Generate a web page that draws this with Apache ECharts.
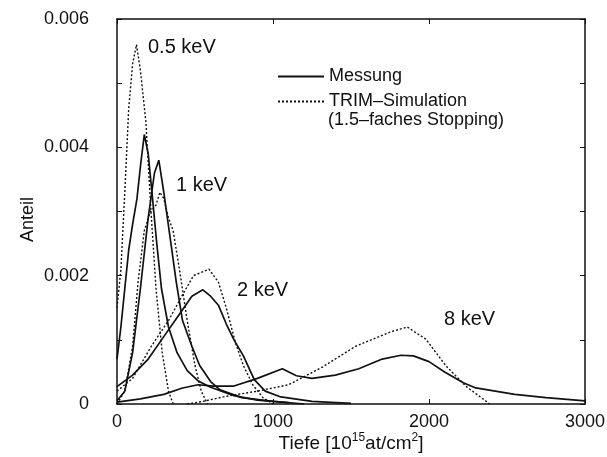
<!DOCTYPE html>
<html>
<head>
<meta charset="utf-8">
<script src="https://cdn.jsdelivr.net/npm/echarts@6/dist/echarts.min.js"></script>
<style>
  html, body { margin: 0; padding: 0; background: #fff; }
  #chart { width: 607px; height: 457px; }
</style>
</head>
<body>
<div id="chart"></div>
<script>
// Depth profiles: implanted fraction vs. depth, measured (solid) and TRIM (dotted)
const xTicks = [0, 1000, 2000, 3000];
const yTicks = [0, 0.002, 0.004, 0.006];

// 0.5 keV
const depth05Mess = [0, 25, 50, 75, 100, 128, 150, 175, 200, 224, 255, 285, 330, 385, 450, 520, 600, 750, 900, 1100];
const anteil05Mess = [0.0007, 0.0012, 0.0018, 0.0024, 0.0028, 0.0032, 0.0037, 0.0042, 0.0039, 0.0033, 0.0025, 0.0018, 0.0012, 0.0008, 0.00052, 0.00036, 0.00026, 0.00013, 0.00006, 0.00002];
const depth05Trim = [0, 25, 50, 75, 100, 125, 150, 185, 218, 250, 290, 330, 360];
const anteil05Trim = [0.0015, 0.0021, 0.0033, 0.0046, 0.0053, 0.0056, 0.0052, 0.0044, 0.003, 0.0018, 0.0008, 0.0002, 0];

// 1 keV
const depth1Mess = [0, 50, 100, 150, 200, 240, 268, 300, 340, 380, 420, 480, 530, 600, 660, 800, 1000, 1200];
const anteil1Mess = [0.00005, 0.0002, 0.0008, 0.0018, 0.0029, 0.0036, 0.0038, 0.0033, 0.0026, 0.0019, 0.0013, 0.0009, 0.0006, 0.00035, 0.00022, 0.0001, 0.00004, 0];
const depth1Trim = [0, 50, 100, 135, 175, 215, 250, 275, 300, 330, 360, 400, 450, 500, 540, 580];
const anteil1Trim = [0, 0.0002, 0.0009, 0.0019, 0.0027, 0.003, 0.0031, 0.0033, 0.0032, 0.0029, 0.0027, 0.0021, 0.0013, 0.0006, 0.0002, 0];

// 2 keV
const depth2Mess = [0, 100, 200, 300, 400, 480, 550, 600, 650, 700, 750, 810, 880, 950, 1050, 1250, 1500];
const anteil2Mess = [0.00027, 0.00045, 0.0007, 0.00105, 0.0014, 0.00168, 0.00178, 0.00168, 0.00154, 0.00125, 0.001, 0.00075, 0.00038, 0.0002, 0.00011, 0.00004, 0.00001];
const depth2Trim = [0, 100, 220, 330, 420, 490, 590, 650, 700, 760, 810, 870, 935, 1000];
const anteil2Trim = [0.0002, 0.0004, 0.0009, 0.0013, 0.0017, 0.002, 0.0021, 0.0019, 0.0015, 0.00095, 0.0006, 0.0003, 0.0001, 0];

// 8 keV
const depth8Mess = [0, 150, 300, 420, 520, 620, 750, 900, 1060, 1150, 1250, 1400, 1550, 1700, 1820, 1900, 2000, 2100, 2220, 2300, 2550, 2750, 3000];
const anteil8Mess = [0.00003, 0.00008, 0.00015, 0.00025, 0.0003, 0.00028, 0.00028, 0.0004, 0.00055, 0.00044, 0.0004, 0.00045, 0.00055, 0.0007, 0.00076, 0.00075, 0.00066, 0.0005, 0.00033, 0.00025, 0.00015, 0.0001, 0.00005];
const depth8Trim = [450, 550, 700, 900, 1100, 1320, 1530, 1750, 1860, 1980, 2110, 2240, 2390];
const anteil8Trim = [0, 0.00004, 0.00012, 0.0002, 0.0003, 0.00058, 0.0009, 0.00112, 0.0012, 0.00101, 0.00059, 0.00027, 0];

const energyLabels = ['0.5 keV', '1 keV', '2 keV', '8 keV'];
const legendNames = ['Messung', 'TRIM\u2013Simulation'];
const legendNote = '(1.5\u2013faches Stopping)';

function pairs(xs, ys) { return xs.map((x, i) => [x, ys[i]]); }

const FONT = '"Liberation Sans", Arial, sans-serif';
const INK = '#111';
const solidStyle = { color: INK, width: 1.7, type: 'solid' };
const dotStyle = { color: INK, width: 1.4, type: [2, 2] };

function lineSeries(name, xs, ys, style) {
  return {
    type: 'line', name: name, data: pairs(xs, ys),
    symbol: 'none', showSymbol: false, smooth: false,
    lineStyle: style, itemStyle: { color: INK },
    emphasis: { disabled: true }, animation: false
  };
}

const series = [
  lineSeries(legendNames[0], depth05Mess, anteil05Mess, solidStyle),
  lineSeries(legendNames[1], depth05Trim, anteil05Trim, dotStyle),
  lineSeries(legendNames[0], depth1Mess, anteil1Mess, solidStyle),
  lineSeries(legendNames[1], depth1Trim, anteil1Trim, dotStyle),
  lineSeries(legendNames[0], depth2Mess, anteil2Mess, solidStyle),
  lineSeries(legendNames[1], depth2Trim, anteil2Trim, dotStyle),
  lineSeries(legendNames[0], depth8Mess, anteil8Mess, solidStyle),
  lineSeries(legendNames[1], depth8Trim, anteil8Trim, dotStyle)
];

const chart = echarts.init(document.getElementById('chart'), null, { renderer: 'canvas' });

const axisCommon = {
  axisLine: { show: true, onZero: false, lineStyle: { color: INK, width: 1.5 } },
  axisTick: { show: true, inside: true, length: 5, lineStyle: { color: INK, width: 1 } },
  splitLine: { show: false }
};

const annot = (i, left, top) => ({
  type: 'text', left: left, top: top,
  style: { text: energyLabels[i], font: '20px ' + FONT, fill: INK }
});

chart.setOption({
  animation: false,
  backgroundColor: '#fff',
  textStyle: { fontFamily: FONT },
  grid: { left: 117, right: 22, top: 19, bottom: 53, containLabel: false, outerBoundsMode: 'none' },
  legend: {
    left: 272, top: 61, orient: 'vertical', itemGap: 4,
    itemWidth: 46, itemHeight: 14,
    data: legendNames,
    itemStyle: { opacity: 0 },
    textStyle: { fontFamily: FONT, fontSize: 18, color: INK, lineHeight: 21 },
    selectedMode: false
  },
  xAxis: [
    Object.assign({}, axisCommon, {
      type: 'value', min: xTicks[0], max: xTicks[xTicks.length - 1], interval: 1000,
      position: 'bottom',
      axisLabel: {
        color: INK, fontSize: 18, fontFamily: FONT, margin: 9,
        formatter: function (v) { return String(v); }
      },
      name: '{t|Tiefe [10}{s|15}{t|at/cm}{s|2}{t|]}',
      nameLocation: 'middle', nameGap: 28, nameMoveOverlap: false,
      nameTextStyle: {
        rich: {
          t: { fontSize: 19, fontFamily: FONT, color: INK },
          s: { fontSize: 12, fontFamily: FONT, color: INK, verticalAlign: 'top', padding: [0, 0, 11, 0] }
        }
      }
    }),
    Object.assign({}, axisCommon, {
      type: 'value', min: 0, max: 3000, interval: 1000, position: 'top',
      axisLabel: { show: false }
    })
  ],
  yAxis: [
    Object.assign({}, axisCommon, {
      type: 'value', min: 0, max: yTicks[yTicks.length - 1], interval: 0.001,
      position: 'left',
      axisLabel: {
        color: INK, fontSize: 18, fontFamily: FONT, margin: 28,
        formatter: function (v) {
          const hit = yTicks.find(t => Math.abs(t - v) < 1e-9);
          if (hit === undefined) return '';
          return hit === 0 ? '0' : hit.toFixed(3);
        }
      },
      name: 'Anteil', nameLocation: 'middle', nameGap: 80, nameRotate: 90, nameMoveOverlap: false,
      nameTextStyle: { fontSize: 18, fontFamily: FONT, color: INK, padding: [0, 16, 0, 0] }
    }),
    Object.assign({}, axisCommon, {
      type: 'value', min: 0, max: 0.006, interval: 0.001, position: 'right',
      axisLabel: { show: false }
    })
  ],
  series: series,
  graphic: [
    { type: 'text', left: 328, top: 111, style: { text: legendNote, font: '18px ' + FONT, fill: INK } },
    annot(0, 148, 37),
    annot(1, 176, 175),
    annot(2, 237, 280),
    annot(3, 444, 309)
  ]
});
</script>
</body>
</html>
